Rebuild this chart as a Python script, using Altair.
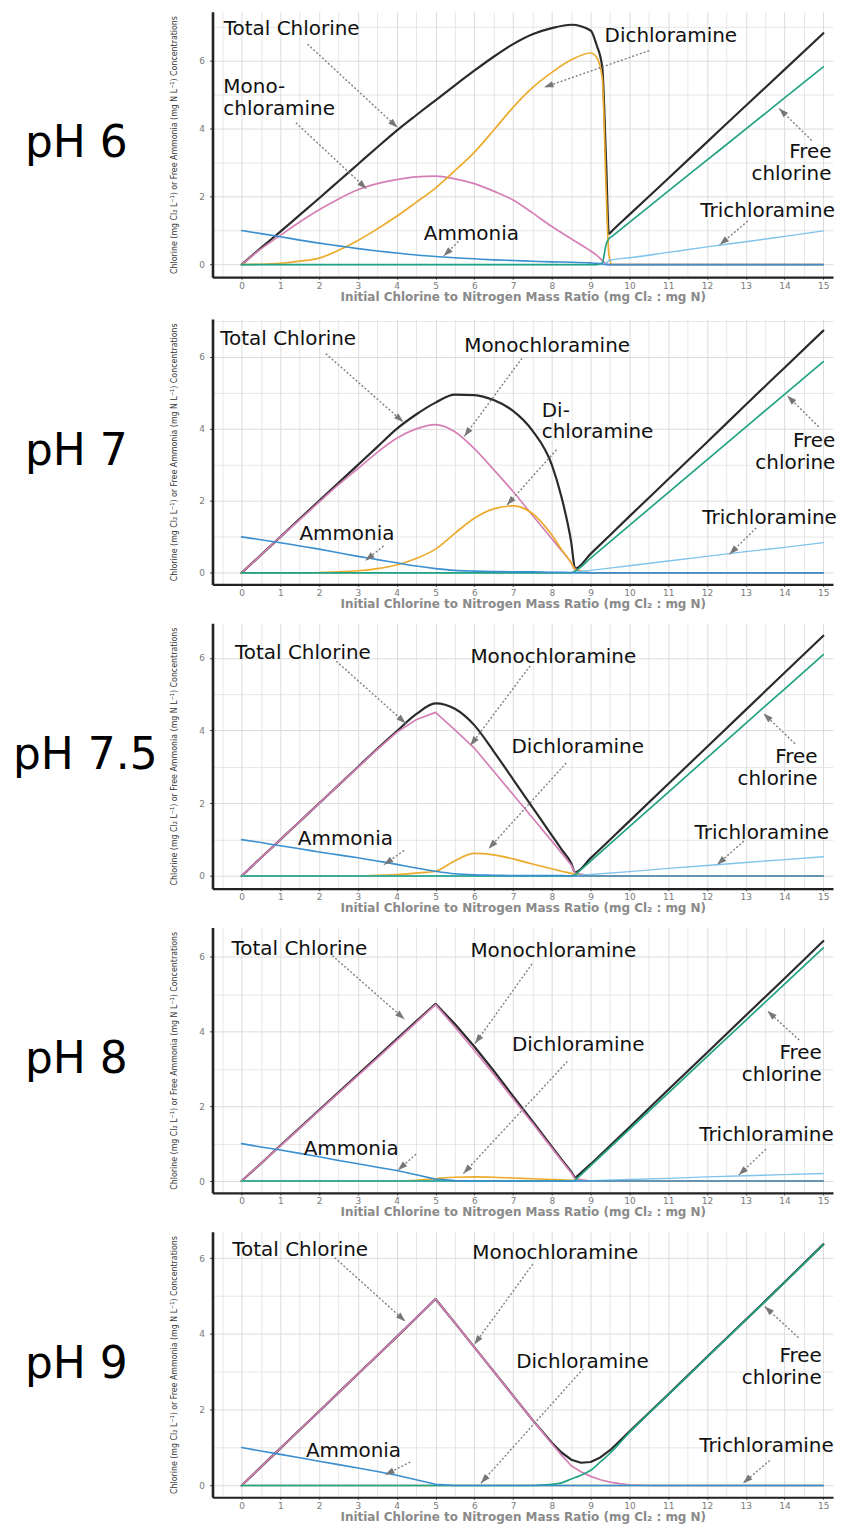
import math
import altair as alt
import pandas as pd

# ---------------- data ----------------
# pH 6
PH6_X = [0, 0.5, 1, 1.5, 2, 2.5, 3, 3.5, 4, 4.5, 5, 5.5, 6, 6.5, 7, 7.5, 8, 8.5, 9,
         9.15, 9.3, 9.4, 9.47, 9.55, 10, 11, 12, 13, 14, 15]
PH6_TOTAL = [0, 0.49, 0.97, 1.46, 1.95, 2.45, 2.95, 3.45, 3.94, 4.39, 4.83, 5.27, 5.7, 6.11, 6.48, 6.77, 6.95, 7.05, 6.88,
             6.47, 5.8, 3.0, 0.9, 0.99, 1.47, 2.53, 3.6, 4.67, 5.73, 6.8]
PH6_MONO = [0, 0.46, 0.86, 1.25, 1.61, 1.93, 2.2, 2.38, 2.5, 2.58, 2.6, 2.52, 2.38, 2.16, 1.9, 1.52, 1.12, 0.76, 0.4,
            0.28, 0.12, 0.03, 0, 0, 0, 0, 0, 0, 0, 0]
PH6_DI = [0, 0.01, 0.04, 0.1, 0.19, 0.42, 0.71, 1.05, 1.42, 1.83, 2.25, 2.76, 3.3, 3.95, 4.62, 5.2, 5.65, 6.02, 6.22,
          6.1, 5.5, 2.2, 0.3, 0, 0, 0, 0, 0, 0, 0]
PH6_TRI = [0, 0, 0, 0, 0, 0, 0, 0, 0, 0, 0, 0, 0, 0, 0, 0, 0, 0, 0,
           0, 0, 0.04, 0.12, 0.14, 0.2, 0.36, 0.52, 0.67, 0.83, 0.99]
PH6_FREE = [0, 0, 0, 0, 0, 0, 0, 0, 0, 0, 0, 0, 0, 0, 0, 0, 0, 0, 0,
            0, 0.05, 0.6, 0.76, 0.83, 1.24, 2.16, 3.07, 3.98, 4.9, 5.81]
PH6_NH3 = [1.0, 0.91, 0.82, 0.72, 0.63, 0.55, 0.47, 0.4, 0.34, 0.28, 0.24, 0.2, 0.17, 0.14, 0.12, 0.1, 0.08, 0.07, 0.05,
           0.04, 0.02, 0, 0, 0, 0, 0, 0, 0, 0, 0]

# pH 7
PH7_X = [0, 0.5, 1, 1.5, 2, 2.5, 3, 3.5, 4, 4.5, 5, 5.5, 6, 6.5, 7, 7.5, 8,
         8.25, 8.5, 8.6, 9, 10, 11, 12, 13, 14, 15]
PH7_TOTAL = [0, 0.5, 1.0, 1.5, 2.0, 2.5, 3.0, 3.5, 4.0, 4.4, 4.73, 4.95, 4.94, 4.8, 4.5, 3.95, 3.0,
             2.1, 0.85, 0.12, 0.53, 1.57, 2.6, 3.63, 4.67, 5.7, 6.73]
PH7_MONO = [0, 0.5, 1.0, 1.48, 1.97, 2.45, 2.9, 3.35, 3.74, 4.0, 4.12, 3.92, 3.45, 2.87, 2.26, 1.6, 0.95,
            0.62, 0.28, 0.1, 0, 0, 0, 0, 0, 0, 0]
PH7_DI = [0, 0, 0, 0, 0.01, 0.03, 0.06, 0.12, 0.22, 0.4, 0.66, 1.1, 1.52, 1.78, 1.86, 1.65, 1.05,
          0.65, 0.28, 0.1, 0, 0, 0, 0, 0, 0, 0]
PH7_TRI = [0, 0, 0, 0, 0, 0, 0, 0, 0, 0, 0, 0, 0, 0, 0, 0, 0,
           0, 0, 0.02, 0.07, 0.2, 0.33, 0.46, 0.59, 0.71, 0.84]
PH7_FREE = [0, 0, 0, 0, 0, 0, 0, 0, 0, 0, 0, 0, 0, 0, 0, 0, 0,
            0, 0, 0.05, 0.41, 1.32, 2.23, 3.14, 4.05, 4.96, 5.87]
PH7_NH3 = [1.0, 0.92, 0.84, 0.75, 0.66, 0.56, 0.46, 0.37, 0.28, 0.19, 0.12, 0.07, 0.05, 0.04, 0.03, 0.03, 0.02,
           0.02, 0.01, 0, 0, 0, 0, 0, 0, 0, 0]

# pH 7.5
PH75_X = [0, 0.5, 1, 1.5, 2, 2.5, 3, 3.5, 4, 4.5, 5, 5.5, 6, 6.5, 7, 7.5, 8,
          8.25, 8.5, 8.6, 9, 10, 11, 12, 13, 14, 15]
PH75_TOTAL = [0, 0.5, 1.0, 1.5, 2.0, 2.5, 3.0, 3.5, 3.98, 4.45, 4.75, 4.6, 4.15, 3.43, 2.66, 1.89, 1.12,
              0.73, 0.35, 0.1, 0.49, 1.51, 2.53, 3.55, 4.57, 5.59, 6.61]
PH75_MONO = [0, 0.5, 1.0, 1.5, 2.0, 2.5, 2.99, 3.48, 3.95, 4.3, 4.5, 4.02, 3.52, 2.88, 2.24, 1.6, 0.96,
             0.63, 0.3, 0.08, 0, 0, 0, 0, 0, 0, 0]
PH75_DI = [0, 0, 0, 0, 0, 0, 0, 0.02, 0.04, 0.08, 0.13, 0.42, 0.62, 0.58, 0.47, 0.33, 0.2,
           0.13, 0.07, 0.04, 0, 0, 0, 0, 0, 0, 0]
PH75_TRI = [0, 0, 0, 0, 0, 0, 0, 0, 0, 0, 0, 0, 0, 0, 0, 0, 0,
            0, 0, 0.01, 0.04, 0.12, 0.21, 0.29, 0.37, 0.45, 0.53]
PH75_FREE = [0, 0, 0, 0, 0, 0, 0, 0, 0, 0, 0, 0, 0, 0, 0, 0, 0,
             0, 0, 0.03, 0.41, 1.36, 2.3, 3.25, 4.2, 5.14, 6.09]
PH75_NH3 = [1.0, 0.92, 0.83, 0.75, 0.66, 0.58, 0.5, 0.41, 0.32, 0.22, 0.13, 0.06, 0.03, 0.02, 0.01, 0.01, 0.01,
            0.01, 0, 0, 0, 0, 0, 0, 0, 0, 0]

# pH 8
PH8_X = [0, 0.5, 1, 1.5, 2, 2.5, 3, 3.5, 4, 4.5, 5, 5.5, 6, 6.5, 7, 7.5, 8,
         8.25, 8.5, 8.6, 9, 10, 11, 12, 13, 14, 15]
PH8_TOTAL = [0, 0.47, 0.95, 1.42, 1.9, 2.37, 2.85, 3.32, 3.8, 4.27, 4.74, 4.2, 3.6, 2.95, 2.27, 1.6, 0.92,
             0.58, 0.25, 0.08, 0.45, 1.44, 2.44, 3.43, 4.43, 5.42, 6.42]
PH8_MONO = [0, 0.47, 0.94, 1.41, 1.88, 2.35, 2.82, 3.29, 3.76, 4.24, 4.72, 4.12, 3.5, 2.86, 2.2, 1.55, 0.88,
            0.55, 0.22, 0.06, 0, 0, 0, 0, 0, 0, 0]
PH8_DI = [0, 0, 0, 0, 0, 0, 0, 0, 0, 0.02, 0.06, 0.1, 0.11, 0.1, 0.08, 0.06, 0.04,
          0.03, 0.02, 0.01, 0, 0, 0, 0, 0, 0, 0]
PH8_TRI = [0, 0, 0, 0, 0, 0, 0, 0, 0, 0, 0, 0, 0, 0, 0, 0, 0,
           0, 0, 0, 0.01, 0.04, 0.07, 0.11, 0.14, 0.17, 0.2]
PH8_FREE = [0, 0, 0, 0, 0, 0, 0, 0, 0, 0, 0, 0, 0, 0, 0, 0, 0,
            0, 0, 0.02, 0.41, 1.38, 2.35, 3.33, 4.3, 5.27, 6.24]
PH8_NH3 = [1.0, 0.91, 0.83, 0.74, 0.65, 0.55, 0.46, 0.37, 0.28, 0.17, 0.05, 0.01, 0, 0, 0, 0, 0,
           0, 0, 0, 0, 0, 0, 0, 0, 0, 0]

# pH 9
PH9_X = [0, 0.5, 1, 1.5, 2, 2.5, 3, 3.5, 4, 4.5, 5, 5.5, 6, 6.5, 7, 7.5, 8,
         8.25, 8.5, 8.75, 9, 9.25, 9.5, 9.75, 10, 10.5, 11, 12, 13, 14, 15]
PH9_TOTAL = [0, 0.49, 0.98, 1.47, 1.96, 2.45, 2.94, 3.43, 3.92, 4.42, 4.92, 4.29, 3.65, 3.01, 2.37, 1.73, 1.13,
             0.87, 0.68, 0.6, 0.62, 0.74, 0.93, 1.17, 1.42, 1.91, 2.4, 3.39, 4.37, 5.36, 6.36]
PH9_MONO = [0, 0.49, 0.98, 1.47, 1.96, 2.45, 2.94, 3.43, 3.92, 4.42, 4.92, 4.29, 3.65, 3.01, 2.37, 1.73, 1.1,
            0.8, 0.52, 0.36, 0.24, 0.15, 0.09, 0.05, 0.02, 0, 0, 0, 0, 0, 0]
PH9_DI = [0, 0, 0, 0, 0, 0, 0, 0, 0, 0, 0, 0, 0, 0, 0, 0, 0,
          0, 0, 0, 0, 0, 0, 0, 0, 0, 0, 0, 0, 0, 0]
PH9_TRI = [0, 0, 0, 0, 0, 0, 0, 0, 0, 0, 0, 0, 0, 0, 0, 0, 0,
           0, 0, 0, 0, 0, 0, 0, 0, 0, 0, 0, 0, 0, 0]
PH9_FREE = [0, 0, 0, 0, 0, 0, 0, 0, 0, 0, 0, 0, 0, 0, 0, 0, 0.03,
            0.07, 0.17, 0.27, 0.4, 0.62, 0.85, 1.12, 1.4, 1.9, 2.39, 3.38, 4.36, 5.35, 6.35]
PH9_NH3 = [1.0, 0.91, 0.82, 0.73, 0.64, 0.55, 0.46, 0.37, 0.27, 0.15, 0.03, 0, 0, 0, 0, 0, 0,
           0, 0, 0, 0, 0, 0, 0, 0, 0, 0, 0, 0, 0, 0]

PH_LABELS = ["pH 6", "pH 7", "pH 7.5", "pH 8", "pH 9"]
X_TICKS = [-0.5, 0, 0.5, 1, 1.5, 2, 2.5, 3, 3.5, 4, 4.5, 5, 5.5, 6, 6.5, 7, 7.5,
           8, 8.5, 9, 9.5, 10, 10.5, 11, 11.5, 12, 12.5, 13, 13.5, 14, 14.5, 15]
Y_TICKS = [0, 1, 2, 3, 4, 5, 6, 7]

X_TITLE = "Initial Chlorine to Nitrogen Mass Ratio (mg Cl\u2082 : mg N)"
Y_TITLE = "Chlorine (mg Cl\u2082 L\u207b\u00b9) or Free Ammonia (mg N L\u207b\u00b9) Concentrations"

# annotations: (text, x, y of first line) left-aligned / right-aligned ("\n" = line break);
# arrows (x1, y1, x2, y2)
NOTES = {
    "pH 6": dict(
        left=[("Total Chlorine", -0.46, 6.92), ("Mono-\nchloramine", -0.47, 5.22),
              ("Dichloramine", 9.36, 6.72), ("Ammonia", 4.7, 0.91)],
        right=[("Free\nchlorine", 15.21, 3.32), ("Trichloramine", 15.3, 1.57)],
        arrows=[(1.7, 6.48, 4.02, 4.03), (1.4, 4.17, 3.22, 2.23), (10.51, 6.29, 7.8, 5.21),
                (14.7, 3.65, 13.86, 4.59), (13.05, 1.28, 12.33, 0.58), (5.59, 0.68, 5.21, 0.25)]),
    "pH 7": dict(
        left=[("Total Chlorine", -0.55, 6.5), ("Monochloramine", 5.74, 6.31), ("Di-\nchloramine", 7.74, 4.51),
              ("Ammonia", 1.49, 1.07)],
        right=[("Free\nchlorine", 15.31, 3.65), ("Trichloramine", 15.35, 1.52)],
        arrows=[(2.17, 6.09, 4.17, 4.19), (7.23, 5.96, 5.74, 3.79), (8.12, 3.42, 6.84, 1.88),
                (14.88, 4.06, 14.07, 4.92), (13.27, 1.25, 12.58, 0.52), (3.66, 0.75, 3.19, 0.34)]),
    "pH 7.5": dict(
        left=[("Total Chlorine", -0.17, 6.13), ("Monochloramine", 5.9, 6.03), ("Dichloramine", 6.96, 3.55),
              ("Ammonia", 1.45, 1.01)],
        right=[("Free\nchlorine", 14.85, 3.28), ("Trichloramine", 15.15, 1.18)],
        arrows=[(2.44, 5.91, 4.23, 4.2), (7.44, 5.78, 5.9, 3.59), (8.37, 3.11, 6.37, 0.75),
                (14.27, 3.64, 13.46, 4.47), (12.95, 0.96, 12.26, 0.31), (4.19, 0.7, 3.67, 0.31)]),
    "pH 8": dict(
        left=[("Total Chlorine", -0.26, 6.22), ("Monochloramine", 5.9, 6.15), ("Dichloramine", 6.97, 3.64),
              ("Ammonia", 1.6, 0.85)],
        right=[("Free\nchlorine", 14.96, 3.42), ("Trichloramine", 15.27, 1.24)],
        arrows=[(2.34, 6.03, 4.2, 4.33), (7.49, 5.81, 6.02, 3.68), (8.4, 3.2, 5.72, 0.2),
                (14.38, 3.77, 13.56, 4.55), (13.52, 0.85, 12.82, 0.16), (4.5, 0.72, 4.03, 0.29)]),
    "pH 9": dict(
        left=[("Total Chlorine", -0.24, 6.22), ("Monochloramine", 5.95, 6.14), ("Dichloramine", 7.08, 3.25),
              ("Ammonia", 1.66, 0.92)],
        right=[("Free\nchlorine", 14.96, 3.42), ("Trichloramine", 15.27, 1.05)],
        arrows=[(2.4, 6.01, 4.22, 4.33), (7.51, 5.84, 6.0, 3.72), (8.81, 3.08, 6.17, 0.06),
                (14.36, 3.9, 13.49, 4.72), (13.62, 0.66, 12.93, 0.06), (4.35, 0.62, 3.7, 0.28)]),
}

# ---------------- layout / style ----------------
W = 622
H = 266
XMIN, XMAX = -0.75, 15.25
Y_DOMAINS = {"pH 6": (-0.37, 7.43), "pH 7": (-0.32, 7.05), "pH 7.5": (-0.35, 6.95),
             "pH 8": (-0.32, 6.78), "pH 9": (-0.31, 6.69)}
LABEL_X = {"pH 6": -188, "pH 7": -188, "pH 7.5": -200, "pH 8": -188, "pH 9": -188}
# series drawn with smooth (monotone) interpolation in each panel; the rest are straight segments
SMOOTH = {"pH 6": {"total", "mono", "di", "nh3", "tri", "free"},
          "pH 7": {"total", "mono", "di", "nh3", "tri", "free"},
          "pH 7.5": {"total", "di", "nh3"},
          "pH 8": {"di"},
          "pH 9": {"free"}}
ARROW_PATH = "M0,0 L0.5,1.45 L-0.5,1.45 Z"
FONT = "DejaVu Sans"

# draw order: total first (underneath), ammonia last
STYLES = [
    ("total", "#2b2b2b", 2.2),
    ("mono", "#d580b5", 1.7),
    ("di", "#ecab2c", 1.7),
    ("tri", "#80c4ec", 1.4),
    ("free", "#22a383", 1.7),
    ("nh3", "#3a8fd0", 1.6),
]

SERIES = {
    "pH 6": (PH6_X, dict(total=PH6_TOTAL, mono=PH6_MONO, di=PH6_DI, tri=PH6_TRI, free=PH6_FREE, nh3=PH6_NH3)),
    "pH 7": (PH7_X, dict(total=PH7_TOTAL, mono=PH7_MONO, di=PH7_DI, tri=PH7_TRI, free=PH7_FREE, nh3=PH7_NH3)),
    "pH 7.5": (PH75_X, dict(total=PH75_TOTAL, mono=PH75_MONO, di=PH75_DI, tri=PH75_TRI, free=PH75_FREE, nh3=PH75_NH3)),
    "pH 8": (PH8_X, dict(total=PH8_TOTAL, mono=PH8_MONO, di=PH8_DI, tri=PH8_TRI, free=PH8_FREE, nh3=PH8_NH3)),
    "pH 9": (PH9_X, dict(total=PH9_TOTAL, mono=PH9_MONO, di=PH9_DI, tri=PH9_TRI, free=PH9_FREE, nh3=PH9_NH3)),
}

HALF = "datum.value % 1 !== 0"
ODD = "datum.value % 2 !== 0"


def x_enc():
    return alt.X(
        "x:Q",
        scale=alt.Scale(domain=[XMIN, XMAX], nice=False, zero=False),
        axis=alt.Axis(
            values=X_TICKS,
            labelExpr="datum.value % 1 === 0 ? format(datum.value, 'd') : ''",
            labelOverlap=False,
            labelFlush=False,
            labelFont=FONT, labelFontSize=9, labelColor="#7a7a7a", labelPadding=2,
            grid=True, gridColor="#dcdcdc",
            gridWidth={"condition": {"test": HALF, "value": 0.7}, "value": 1.0},
            tickColor="#444", tickSize=2,
            tickOpacity={"condition": {"test": HALF, "value": 0}, "value": 1},
            domainColor="#222", domainWidth=2.2,
            title=X_TITLE, titleFont=FONT, titleFontSize=12, titleFontWeight="bold",
            titleColor="#8a8a8a", titlePadding=1,
        ),
    )


def y_enc(ymin, ymax):
    vals = [v for v in Y_TICKS if ymin <= v <= ymax]
    return alt.Y(
        "y:Q",
        scale=alt.Scale(domain=[ymin, ymax], nice=False, zero=False),
        axis=alt.Axis(
            values=vals,
            labelExpr="datum.value % 2 === 0 ? format(datum.value, 'd') : ''",
            labelOverlap=False,
            labelFont=FONT, labelFontSize=9, labelColor="#7a7a7a", labelPadding=5,
            grid=True, gridColor="#dcdcdc",
            gridWidth={"condition": {"test": ODD, "value": 0.7}, "value": 1.0},
            tickColor="#444", tickSize=3,
            tickOpacity={"condition": {"test": ODD, "value": 0}, "value": 1},
            domainColor="#222", domainWidth=2.6,
            title=Y_TITLE, titleFont="DejaVu Sans Condensed", titleFontSize=8.8,
            titleFontWeight="normal", titleColor="#333333", titlePadding=20,
        ),
    )


def panel(label):
    xs, ser = SERIES[label]
    ymin, ymax = Y_DOMAINS[label]
    notes = NOTES[label]
    X = x_enc()
    Y = y_enc(ymin, ymax)
    layers = []
    for key, color, width in STYLES:
        vals = ser[key]
        if len(vals) != len(xs):
            raise ValueError(f"{label} {key}: {len(vals)} vs {len(xs)}")
        df = pd.DataFrame({"x": xs, "y": vals})
        interp = "monotone" if key in SMOOTH[label] else "linear"
        layers.append(
            alt.Chart(df).mark_line(color=color, strokeWidth=width, strokeCap="round",
                                    strokeJoin="round", interpolate=interp,
                                    clip=True).encode(x=X, y=Y)
        )
    # arrows
    kx = W / (XMAX - XMIN)
    ky = H / (ymax - ymin)
    arr = pd.DataFrame(notes["arrows"], columns=["x", "y", "x2", "y2"])
    arr["ang"] = [
        (math.degrees(math.atan2((b[2] - b[0]) * kx, (b[3] - b[1]) * ky)) + 360) % 360
        for b in notes["arrows"]
    ]
    layers.append(
        alt.Chart(arr).mark_rule(color="#7f7f7f", strokeWidth=1.4, strokeDash=[2, 2]).encode(
            x=X, y=Y, x2="x2:Q", y2="y2:Q")
    )
    heads = arr[["x2", "y2", "ang"]].rename(columns={"x2": "x", "y2": "y"})
    layers.append(
        alt.Chart(heads).mark_point(shape=ARROW_PATH, filled=True, color="#777777",
                                    opacity=1, size=170, strokeWidth=0).encode(
            x=X, y=Y, angle=alt.Angle("ang:Q", scale=None))
    )
    # texts
    lt = pd.DataFrame(notes["left"], columns=["t", "x", "y"])
    rt = pd.DataFrame(notes["right"], columns=["t", "x", "y"])
    layers.append(
        alt.Chart(lt).mark_text(font=FONT, fontSize=20, align="left", baseline="middle",
                                lineBreak="\n", lineHeight=22, color="#111").encode(x=X, y=Y, text="t:N")
    )
    layers.append(
        alt.Chart(rt).mark_text(font=FONT, fontSize=20, align="right", baseline="middle",
                                lineBreak="\n", lineHeight=22, color="#111").encode(x=X, y=Y, text="t:N")
    )
    # pH label
    layers.append(
        alt.Chart(pd.DataFrame({"t": [label]})).mark_text(
            font=FONT, fontSize=44, align="left", baseline="middle", color="#000"
        ).encode(x=alt.value(LABEL_X[label]), y=alt.value(H / 2), text="t:N")
    )
    return alt.layer(*layers).properties(width=W, height=H)


chart = alt.vconcat(*[panel(l) for l in PH_LABELS], spacing=14).properties(
    padding={"left": 5, "top": 2, "right": 0, "bottom": 0},
    background="white",
).configure_view(stroke=None)

chart.save("out.html", embed_options={"renderer": "svg", "actions": False})
